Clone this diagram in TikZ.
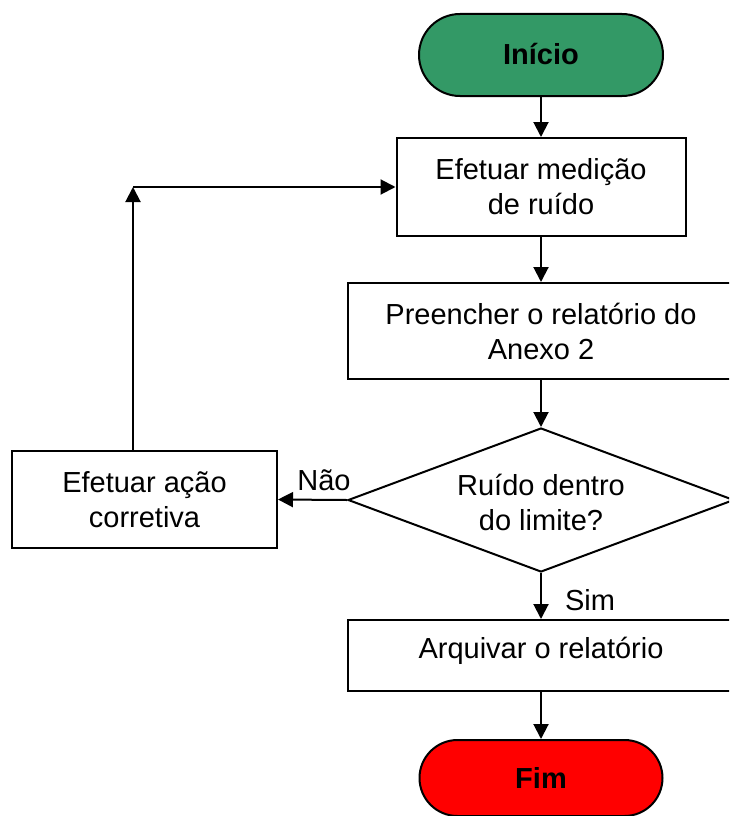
\documentclass[tikz,border=0pt]{standalone}
\usepackage{fontspec}
\setmainfont{Liberation Sans}
\usetikzlibrary{shapes.geometric,arrows.meta}
\definecolor{startgreen}{HTML}{339966}
\definecolor{endred}{HTML}{FF0000}
\begin{document}
\begin{tikzpicture}[x=1pt,y=-1pt,
  every node/.style={font=\fontsize{29}{35}\selectfont, align=center, inner sep=0pt},
  box/.style={draw, line width=2pt, rectangle},
  term/.style={draw, line width=2pt, font=\fontsize{29}{35}\selectfont\bfseries},
  dec/.style={draw, line width=2pt, diamond, aspect=2.68},
  arr/.style={line width=2pt, -{Triangle[length=15pt,width=15pt]}}
]
\useasboundingbox (0,0) rectangle (729,816);
\clip (0,0) rectangle (729,816);

\node[term, fill=startgreen, rounded corners=41pt, minimum width=244pt, minimum height=82pt] (inicio) at (541,55) {\raisebox{3pt}{Início}};
\node[box, minimum width=289pt, minimum height=98pt] (medicao) at (541,187) {Efetuar medição\\de ruído};
\node[box, minimum width=386pt, minimum height=96pt] (preencher) at (541,331) {Preencher o relatório do\\Anexo 2};
\node[dec, minimum width=386pt, minimum height=144pt] (decisao) at (541,500) {\raisebox{-12pt}[0pt][0pt]{\begin{tabular}{@{}c@{}}Ruído dentro\\do limite?\end{tabular}}};
\node[box, minimum width=265pt, minimum height=97pt] (acao) at (144.5,499.5) {Efetuar ação\\corretiva};
\node[box, minimum width=386pt, minimum height=71pt] (arquivar) at (541,655.5) {\raisebox{-3pt}[0pt][0pt]{Arquivar o relatório}};
\node[term, fill=endred, rounded corners=38pt, minimum width=243pt, minimum height=76pt] (fim) at (541,778) {Fim};

\node (nao) at (324,480) {Não};
\node (sim) at (590,600) {Sim};

\coordinate (corner) at (133,187);

\draw[arr] (inicio) -- (medicao);
\draw[arr] (medicao) -- (preencher);
\draw[arr] (preencher) -- (decisao);
\draw[arr] (decisao.west) -- (acao.east);
\draw[arr] (decisao.south) -- (arquivar.north);
\draw[arr] (arquivar) -- (fim);
\draw[arr] (acao.north -| corner) -- (corner);
\draw[arr] (corner) -- (medicao.west);
\end{tikzpicture}
\end{document}
